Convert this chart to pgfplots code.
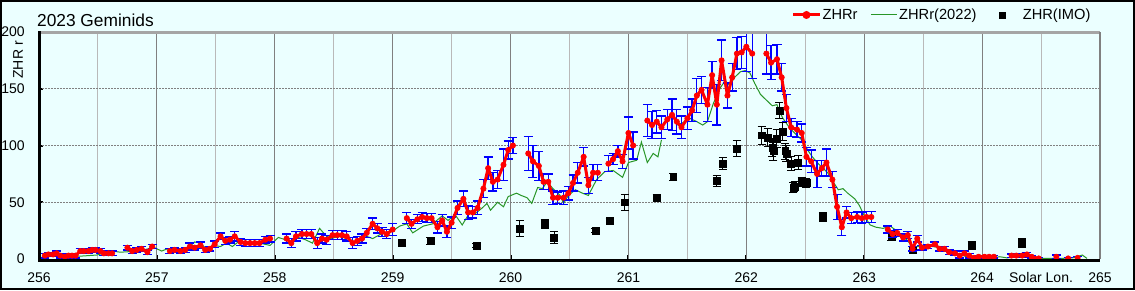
\documentclass[border=0pt]{standalone}
\usepackage{fontspec}
\setmainfont{Liberation Sans}
\usepackage{pgfplots}
\pgfplotsset{compat=1.18}
\usepackage{pgfplotstable}
\definecolor{bgc}{RGB}{235,255,255}
\definecolor{grn}{RGB}{40,150,40}
\definecolor{gA}{RGB}{128,128,128}
\definecolor{gB}{RGB}{185,185,185}
\definecolor{gT}{RGB}{165,165,165}

\pgfplotstableread{
x y e
256.05 3 2
256.08 4 2
256.12 4 2
256.15 5 2
256.18 3 2
256.22 2 1.5
256.25 3 2
256.28 3 2
256.31 3 2
256.35 7 2
256.38 7 2
256.42 7 2
256.45 8 2
256.48 8 2
256.52 7 2
256.55 5 2
256.59 5 2
256.62 5 2
256.68 nan nan
256.75 10 2
256.79 7 2
256.83 8 2
256.87 9 2
256.92 6 2
256.96 11 2
257.03 nan nan
257.11 7 2
257.15 8 2
257.20 7 2
257.24 8 2
257.28 11 3
257.32 10 2
257.37 12 3
257.41 8 2
257.45 9 2
257.49 13 3
257.54 20 3
257.58 16 3
257.62 17 3
257.66 20 4
257.71 15 3
257.75 14 3
257.79 14 3
257.83 14 3
257.87 14 3
257.92 17 3
257.96 18 3
258.03 nan nan
258.10 18 4
258.14 14 4
258.18 20 4
258.23 22 4
258.27 22 4
258.31 22 4
258.36 14 5
258.40 18 4
258.44 17 4
258.49 21 4
258.53 21 4
258.57 21 4
258.61 20 4
258.66 14 5
258.70 16 4
258.74 18 4
258.78 23 4
258.83 31 5
258.87 27 4
258.91 24 4
258.95 22 4
259.00 26 5
259.06 nan nan
259.12 36 5
259.16 31 4
259.21 35 4
259.25 37 4
259.29 36 4
259.33 36 4
259.38 28 5
259.42 34 5
259.46 24 5
259.50 32 5
259.55 45 6
259.60 53 7
259.64 41 6
259.68 41 5
259.72 45 6
259.77 62 8
259.81 80 10
259.85 68 8
259.89 70 8
259.94 83 14
259.98 96 8
260.02 100 7
260.08 nan nan
260.15 93 15
260.19 86 14
260.24 82 13
260.28 68 7
260.32 68 7
260.36 54 6
260.40 54 5
260.45 54 6
260.49 58 6
260.53 67 7
260.57 76 9
260.62 90 8
260.66 65 7
260.70 76 7
260.74 76 7
260.78 nan nan
260.83 84 7
260.87 88 5
260.91 95 5
260.95 86 6
261.00 111 14
261.04 100 12
261.10 nan nan
261.16 122 14
261.20 118 12
261.24 121 10
261.28 116 10
261.33 123 9
261.37 127 14
261.41 121 11
261.45 116 10
261.50 124 10
261.54 131 10
261.58 144 15
261.62 149 12
261.67 136 15
261.71 162 12
261.75 136 18
261.79 175 18
261.84 144 11
261.88 160 12
261.92 181 14
261.96 182 14
262.00 187 22
262.05 181 22
262.11 nan nan
262.17 181 18
262.21 173 15
262.26 176 13
262.30 160 12
262.34 133 12
262.38 116 8
262.43 114 7
262.47 111 8
262.51 90 8
262.55 86 10
262.60 75 12
262.64 80 7
262.68 85 12
262.73 70 7
262.77 46 11
262.81 28 7
262.85 41 5
262.89 36 5
262.94 37 5
262.98 36 5
263.02 37 5
263.06 37 5
263.13 nan nan
263.20 26 3
263.24 22 3
263.28 23 3
263.33 19 3
263.37 21 3
263.41 9 2
263.45 18 3
263.49 10 2
263.54 11 2
263.60 13 2
263.64 9 2
263.68 9 2
263.72 6 2
263.77 5 2
263.81 3 2
263.85 5 2
263.89 3 2
263.93 1 1
263.97 2 1
264.02 2 1
264.06 2 1
264.10 2 1
264.18 nan nan
264.25 3 1.5
264.29 3 1.5
264.34 3 1.5
264.38 4 1.5
264.42 2 1
264.48 0.5 1
264.55 nan nan
264.63 2 1.5
264.68 nan nan
264.73 0.5 1
264.77 nan nan
264.81 1 1.5
}\zhrr

\pgfplotstableread{
x y
256.00 1
256.09 3
256.35 2.5
256.49 3.5
256.62 7
256.69 6
256.77 6.5
256.88 8
256.98 10
257.04 7
257.09 9
257.13 6
257.18 8
257.22 6
257.28 11
257.32 15
257.37 14
257.42 9
257.48 12
257.54 11
257.59 14
257.64 11
257.69 15
257.76 14
257.87 14
257.96 12
258.03 19
258.09 17
258.15 15
258.20 19
258.26 17
258.32 14
258.38 27
258.43 21
258.47 18
258.55 20
258.64 17
258.70 14
258.78 20
258.83 18
258.92 23
258.99 24
259.06 29
259.12 31
259.17 23
259.26 29
259.34 31
259.42 38
259.47 34
259.53 39
259.59 30
259.66 42
259.70 40
259.76 45
259.80 49
259.83 43
259.89 50
259.94 46
259.98 55
260.05 58
260.09 56
260.14 54
260.18 49
260.23 63
260.27 62
260.31 68
260.36 62
260.42 56
260.45 49
260.49 56
260.55 61
260.61 58
260.66 56
260.73 70
260.80 77
260.87 78
260.95 72
261.00 85
261.07 87
261.11 103
261.16 85
261.21 93
261.25 90
261.28 105
261.35 nan
261.41 118
261.46 120
261.52 124
261.58 121
261.63 118
261.67 121
261.72 137
261.78 151
261.82 157
261.86 153
261.90 160
261.95 165
261.99 166
262.03 164
262.07 155
262.12 145
262.17 140
262.22 135
262.26 136
262.28 130
262.31 124
262.35 118
262.40 112
262.44 108
262.48 104
262.52 96
262.56 90
262.61 84
262.65 80
262.69 76
262.73 69
262.78 61
262.82 62
262.86 58
262.92 53
262.96 47
263.00 38
263.05 30
263.10 28
263.16 27
263.22 29
263.26 26
263.30 21
263.36 17
263.41 11
263.47 11
263.53 12
263.58 11
263.64 10
263.70 8
263.75 5
263.81 4
263.87 2
263.92 1
264.01 1
264.09 1
264.15 2
264.21 1
264.26 1.5
264.38 1.5
264.49 0.5
264.66 0.5
264.77 1
264.85 3.5
264.89 0.5
}\zhrold

\pgfplotstableread{
x y e
259.08 14 3
259.32 16 3
259.71 12 1.5
260.08 27 7
260.29 31 4
260.37 19 5
260.72 25 2
260.84 34 2
260.97 50 7
261.24 54 3
261.38 72 3
261.75 69 5
261.80 84 5
261.92 97 7
262.13 109 8
262.18 107 8
262.22 98 8
262.23 95 8
262.26 106 8
262.28 131 7
262.31 112 8
262.33 95 7
262.34 93 7
262.38 84 6
262.44 85 6
262.40 63 4
262.41 64 4
262.47 68 4
262.51 67 4
262.65 37 4
263.23 20 4
263.41 8 2
263.91 12 3
264.34 14 4
}\imo

\begin{document}
\begin{tikzpicture}[x=0.75pt,y=0.75pt]
\path[use as bounding box] (0,0) rectangle (1135,290);
\fill[bgc] (0,0) rectangle (1135,290);
\draw[black, line width=1.5pt] (1,1) rectangle (1134,289);
\begin{axis}[
  name=ax,
  at={(29.25pt,23.25pt)}, anchor=south west,
  scale only axis, width=795.75pt, height=170.25pt,
  xmin=256, xmax=265, ymin=0, ymax=200,
  xtick={256,257,...,265}, ytick={0,50,...,200},
  axis line style={draw=none},
  tick align=inside, xtick pos=lower, ytick pos=left,
  major tick length=3pt,
  tick style={black, line width=1.5pt},
  /pgf/number format/assume math mode=true,
  xticklabel style={inner sep=0pt, yshift=-9.75pt, font=\fontsize{10.5}{12}\selectfont},
  yticklabel style={inner sep=0pt, xshift=-10.5pt, font=\fontsize{10.5}{12}\selectfont},
  clip mode=individual,
  unbounded coords=jump,
  title={2023 Geminids},
  every axis title/.style={at={(axis description cs:-0.002,1.026)}, anchor=base west, inner sep=0pt, font=\fontsize{13}{15}\selectfont},
  ylabel={ZHR r},
  every axis y label/.style={at={(axis description cs:-0.0198,0.877)}, rotate=90, anchor=center, inner sep=0pt, font=\fontsize{10.5}{12}\selectfont},
  xlabel={Solar Lon.},
  every axis x label/.style={at={(axis cs:264.5,0)}, anchor=north, inner sep=0pt, yshift=-9.75pt, font=\fontsize{10.5}{12}\selectfont},
  legend style={at={(axis description cs:0.9925,1.075)}, anchor=east, draw=none, fill=none,
    legend columns=-1, font=\fontsize{11}{13}\selectfont, inner sep=0pt,
    nodes={inner sep=1pt},
    /tikz/every even column/.append style={column sep=8.5pt}},
  legend image code/.code={\draw[mark repeat=2,mark phase=2,#1] plot coordinates {(0cm,0cm) (0.35cm,0cm) (0.7cm,0cm)};},
]
% grid
\draw[gB, line width=0.75pt] (axis cs:256.5,0) -- (axis cs:256.5,200);
\draw[gB, line width=0.75pt] (axis cs:257.5,0) -- (axis cs:257.5,200);
\draw[gB, line width=0.75pt] (axis cs:258.5,0) -- (axis cs:258.5,200);
\draw[gB, line width=0.75pt] (axis cs:259.5,0) -- (axis cs:259.5,200);
\draw[gB, line width=0.75pt] (axis cs:260.5,0) -- (axis cs:260.5,200);
\draw[gB, line width=0.75pt] (axis cs:261.5,0) -- (axis cs:261.5,200);
\draw[gB, line width=0.75pt] (axis cs:262.5,0) -- (axis cs:262.5,200);
\draw[gB, line width=0.75pt] (axis cs:263.5,0) -- (axis cs:263.5,200);
\draw[gB, line width=0.75pt] (axis cs:264.5,0) -- (axis cs:264.5,200);
\draw[gA, line width=0.75pt] (axis cs:257,0) -- (axis cs:257,200);
\draw[gA, line width=0.75pt] (axis cs:258,0) -- (axis cs:258,200);
\draw[gA, line width=0.75pt] (axis cs:259,0) -- (axis cs:259,200);
\draw[gA, line width=0.75pt] (axis cs:260,0) -- (axis cs:260,200);
\draw[gA, line width=0.75pt] (axis cs:261,0) -- (axis cs:261,200);
\draw[gA, line width=0.75pt] (axis cs:262,0) -- (axis cs:262,200);
\draw[gA, line width=0.75pt] (axis cs:263,0) -- (axis cs:263,200);
\draw[gA, line width=0.75pt] (axis cs:264,0) -- (axis cs:264,200);
\draw[gA, line width=0.75pt, dash pattern=on 1.5pt off 0.75pt] (axis cs:256,50) -- (axis cs:265,50);
\draw[gA, line width=0.75pt, dash pattern=on 1.5pt off 0.75pt] (axis cs:256,100) -- (axis cs:265,100);
\draw[gA, line width=0.75pt, dash pattern=on 1.5pt off 0.75pt] (axis cs:256,150) -- (axis cs:265,150);

\addlegendimage{red, line width=2.25pt, mark=*, mark size=1.8pt}
\addlegendentry{ZHRr}
\addlegendimage{grn, line width=0.75pt}
\addlegendentry{ZHRr(2022)}
\addlegendimage{black, legend image code/.code={\path[draw=none,fill=none] (0cm,-1pt) rectangle (0.85cm,1pt); \fill[black] (0.35cm,0cm) +(-2.4pt,-2.4pt) rectangle +(2.4pt,2.4pt);}}
\addlegendentry{ZHR(IMO)}

\addplot[forget plot, grn, line width=0.75pt, mark=none] table[x=x,y=y] {\zhrold};

\addplot[forget plot, only marks, mark=square*, mark size=2.6pt, black,
  error bars/.cd, y dir=both, y explicit,
  error bar style={black, line width=0.75pt},
  error mark options={rotate=90, black, mark size=3pt, line width=0.75pt}]
  table[x=x,y=y,y error=e] {\imo};

\addplot[forget plot, draw=none, mark=none,
  error bars/.cd, y dir=both, y explicit,
  error bar style={draw=blue, line width=1pt},
  error mark options={rotate=90, draw=blue, mark size=3.4pt, line width=1pt}]
  table[x=x,y=y,y error=e] {\zhrr};

\addplot[forget plot, red, line width=2.25pt, line join=round, mark=*, mark size=2pt, mark options={fill=red, draw=red, line width=0.5pt}]
  table[x=x,y=y] {\zhrr};
\end{axis}
\draw[gT, line width=2.25pt] (ax.north west) -- (ax.north east);
\draw[gA, line width=1.5pt] (ax.north east) -- (ax.south east);
\draw[black, line width=2.25pt] ([yshift=-1.1pt]ax.south west) -- ([yshift=-1.1pt]ax.south east);
\draw[black, line width=2.25pt] ([yshift=-2.2pt]ax.south west) -- ([yshift=1.1pt]ax.north west);
\end{tikzpicture}
\end{document}
